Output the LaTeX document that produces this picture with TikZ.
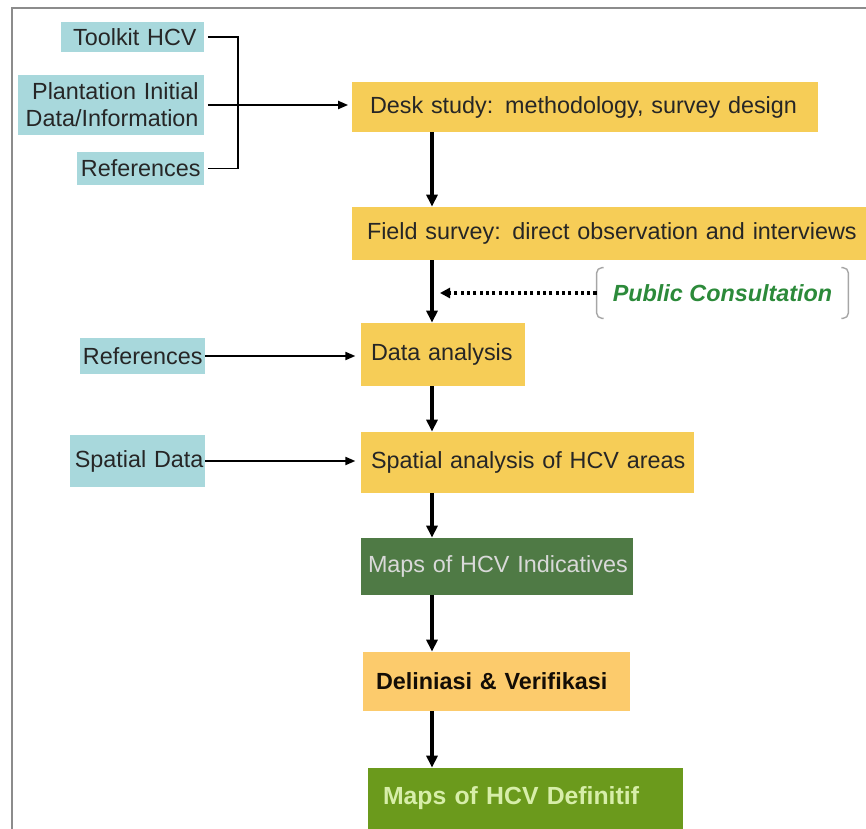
\documentclass[tikz,border=0pt]{standalone}
\usepackage{fontspec}
\setmainfont{Liberation Sans}
\usetikzlibrary{arrows.meta}
\definecolor{inputblue}{HTML}{A8D8DC}
\definecolor{stepyellow}{HTML}{F6CD57}
\definecolor{deliorange}{HTML}{FCCB6C}
\definecolor{mapdark}{HTML}{4F7A45}
\definecolor{mapgreen}{HTML}{6B9A1C}
\definecolor{pcgreen}{HTML}{2C8A3A}
\begin{document}
\begin{tikzpicture}[
  every node/.style={inner sep=0pt, font=\fontsize{13.3}{15.2}\selectfont, text=black!85},
  inbox/.style={fill=inputblue, align=right},
  stepbox/.style={fill=stepyellow},
  lpad/.style={align=left, execute at begin node={\hspace*{#1}}},
  flow/.style={line width=2pt, -{Triangle[length=2.4mm, width=2.2mm]}},
  feed/.style={line width=1.1pt, -{Triangle[length=2mm, width=1.6mm]}},
  frame/.style={draw=black!45, line width=1.2pt}
]
  \useasboundingbox (0,0) rectangle (17.32,-16.58);
  \draw[frame] (0.24,-16.6) |- (17.32,-0.16);
  % inputs on the left
  \node[inbox, minimum width=2.86cm, minimum height=0.6cm, text width=2.56cm] (toolkit) at (2.65,-0.74) {Toolkit HCV};
  \node[inbox, minimum width=3.72cm, minimum height=1.2cm, text width=3.5cm] (plant) at (2.22,-2.10) {Plantation Initial\\Data/Information};
  \node[inbox, minimum width=2.54cm, minimum height=0.66cm, text width=2.4cm] (refa) at (2.81,-3.37) {References};
  \node[inbox, minimum width=2.5cm, minimum height=0.72cm, text width=2.4cm] (refb) at (2.85,-7.12) {References};
  \node[inbox, minimum width=2.7cm, minimum height=1.04cm, text width=2.64cm] (spdata) at (2.75,-9.22) {Spatial Data};
  % main steps
  \node[stepbox, lpad=0.36cm, minimum height=1.0cm, text width=9.32cm] (desk) at (11.7,-2.14) {Desk study: methodology, survey design};
  \node[stepbox, lpad=0.3cm, minimum height=1.06cm, text width=10.28cm] (field) at (12.18,-4.67) {Field survey: direct observation and interviews};
  \node[stepbox, lpad=0.2cm, minimum height=1.26cm, text width=3.28cm] (data) at (8.86,-7.09) {Data analysis};
  \node[stepbox, lpad=0.2cm, minimum height=1.22cm, text width=6.66cm] (spatial) at (10.55,-9.25) {Spatial analysis of HCV areas};
  \node[fill=mapdark, lpad=0.14cm, minimum height=1.14cm, text width=5.44cm, text=black!15] (indic) at (9.94,-11.33) {Maps of HCV Indicatives};
  \node[fill=deliorange, lpad=0.26cm, minimum height=1.18cm, text width=5.34cm, font=\bfseries\fontsize{13.3}{15.2}\selectfont, text=black!90!brown] (delin) at (9.93,-13.63) {Deliniasi \& Verifikasi};
  \node[fill=mapgreen, lpad=0.3cm, minimum height=1.22cm, text width=6.3cm, font=\bfseries\fontsize{14.1}{16}\selectfont, text=yellow!55!green!35] (defin) at (10.51,-15.97) {Maps of HCV Definitif};
  \node[minimum width=5.02cm, minimum height=1.0cm, font=\bfseries\itshape\fontsize{13.3}{15.2}\selectfont, text=pcgreen] (pc) at (14.45,-5.86) {Public Consultation};
  \coordinate (spine) at (8.64,0);
  % brackets round the consultation
  \draw[black!35, line width=0.8pt, rounded corners=3pt] ([xshift=4pt]pc.north west) -- (pc.north west) -- (pc.south west) -- ([xshift=4pt]pc.south west);
  \draw[black!35, line width=0.8pt, rounded corners=3pt] ([xshift=-4pt]pc.north east) -- (pc.north east) -- (pc.south east) -- ([xshift=-4pt]pc.south east);
  % connectors
  \draw[line width=1.1pt] ([xshift=2pt]toolkit.east) -- ++(0.6,0) |- ([xshift=2pt]refa.east);
  \draw[feed] ([xshift=2pt]plant.east) -- ([xshift=-2pt]desk.west |- plant.east);
  \draw[feed] (refb.east) -- ([xshift=-3pt]data.west |- refb.east);
  \draw[feed] (spdata.east) -- ([xshift=-3pt]spatial.west |- spdata.east);
  \draw[flow] (desk.south -| spine) -- (field.north -| spine);
  \draw[flow] (field.south -| spine) -- (data.north -| spine);
  \draw[flow] (data.south -| spine) -- (spatial.north -| spine);
  \draw[flow] (spatial.south -| spine) -- (indic.north -| spine);
  \draw[flow] (indic.south -| spine) -- (delin.north -| spine);
  \draw[flow] (delin.south -| spine) -- (defin.north -| spine);
  \draw[line width=1.8pt, dash pattern=on 1.8pt off 1.8pt, -{Triangle[length=2mm, width=2mm]}] (pc.west) -- ([xshift=0.16cm]spine |- pc.west);
\end{tikzpicture}
\end{document}
